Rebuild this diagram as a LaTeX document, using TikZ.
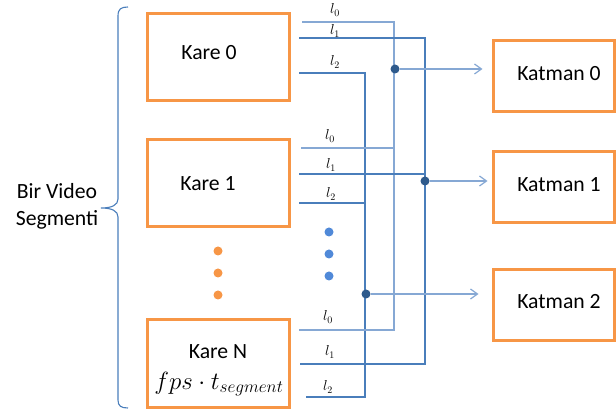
\documentclass[tikz,border=0pt]{standalone}
\usepackage{fontspec}
\setmainfont{Carlito}
\usetikzlibrary{arrows.meta}
\definecolor{frameorange}{HTML}{F79646}
\definecolor{busblue}{HTML}{4A7EBB}
\definecolor{lightbus}{HTML}{86A8D4}
\definecolor{jointblue}{HTML}{2E5A8C}
\definecolor{dotblue}{HTML}{5089D8}
\begin{document}
\begin{tikzpicture}[x=1pt,y=-1pt,
  framebox/.style={draw=frameorange, line width=3pt, inner sep=0pt},
  karebox/.style={framebox, minimum width=142pt, minimum height=87pt},
  katmanbox/.style={framebox, minimum width=121pt, minimum height=71pt},
  boxtext/.style={font=\fontsize{21.7}{26}\selectfont, inner sep=0pt},
  lname/.style={font=\fontsize{14.5}{16}\selectfont, inner sep=0pt},
  lzero/.style={draw=lightbus, line width=1.3pt},
  lone/.style={draw=busblue, line width=2.6pt},
  ltwo/.style={draw=busblue, line width=2pt},
  feed/.style={draw=lightbus, line width=1.2pt, -{Straight Barb[length=7pt,width=10pt]}},
  joint/.style={circle, fill=jointblue, inner sep=0pt, minimum size=9pt},
  orangedot/.style={circle, fill=frameorange, inner sep=0pt, minimum size=9pt},
  bluedot/.style={circle, fill=dotblue, inner sep=0pt, minimum size=9pt},
  brace/.style={draw=busblue, line width=1.1pt}
]
\useasboundingbox (0,0) rectangle (616,411);

% frames
\node[karebox] (k0) at (218,57) {};
\node[karebox] (k1) at (218,183.5) {};
\node[karebox, minimum height=88pt] (kN) at (218,364) {};
\node[katmanbox] (m0) at (553.5,76.5) {};
\node[katmanbox] (m1) at (553.5,187.5) {};
\node[katmanbox] (m2) at (553.5,305) {};

% frame texts
\node[boxtext] (k0t) at (209,53) {Kare 0};
\node[boxtext] (k1t) at (208,184) {Kare 1};
\node[boxtext] (kNt) at (218,352) {Kare N};
\node[inner sep=0pt, font=\fontsize{23.5}{28}\selectfont] (kNf) at (219,384) {$fps\cdot t_{segment}$};
\node[boxtext] (m0t) at (559,74) {Katman 0};
\node[boxtext] (m1t) at (559,185) {Katman 1};
\node[boxtext] (m2t) at (559,302) {Katman 2};

% segment brace and its caption
\draw[brace] (128,7) .. controls (121,7) and (118,9) .. (118,16) -- (118,199)
  .. controls (118,205) and (112,208) .. (101,208)
  .. controls (112,208) and (118,211) .. (118,217) -- (118,400)
  .. controls (118,406) and (121,408) .. (128,408);
\node[align=center, font=\fontsize{21.7}{27}\selectfont, inner sep=0pt] (seg) at (57,206) {Bir Video\\Segmenti};

% ellipses between frames
\node[orangedot] (od1) at (218,251) {};
\node[orangedot] (od2) at (218,273) {};
\node[orangedot] (od3) at (218,295) {};
\node[bluedot] (bd1) at (329,232) {};
\node[bluedot] (bd2) at (329,254) {};
\node[bluedot] (bd3) at (329,276) {};

% line start points next to each frame
\coordinate (a0) at (302,22);  \coordinate (a1) at (299,38);  \coordinate (a2) at (299,73);
\coordinate (b0) at (301,148); \coordinate (b1) at (299,174); \coordinate (b2) at (299,203);
\coordinate (c0) at (299,330); \coordinate (c1) at (300,364); \coordinate (c2) at (306,397);
% bus columns
\coordinate (x0) at (394,0); \coordinate (x1) at (425,0); \coordinate (x2) at (365,0);

% l2 bus
\draw[ltwo] (a2) -- (a2 -| x2) -- (c2 -| x2) -- (c2);
\draw[ltwo] (b2) -- (b2 -| x2);
% l0 bus
\draw[lzero] (a0) -- (a0 -| x0) -- (c0 -| x0) -- (c0);
\draw[lzero] (b0) -- (b0 -| x0);
% l1 bus
\draw[lone] (a1) -- (a1 -| x1) -- (c1 -| x1) -- (c1);
\draw[lone] (b1) -- (b1 -| x1);

% taps feeding the layers
\node[joint] (j0) at (395,69) {};
\node[joint] (j1) at (425,181) {};
\node[joint] (j2) at (366,294) {};
\draw[feed, shorten >=9pt] (j0) -- (j0 -| m0.west);
\draw[feed, shorten >=4pt] (j1) -- (j1 -| m1.west);
\draw[feed, shorten >=13pt] (j2) -- (j2 -| m2.west);

% line names
\node[lname] (n00) at (335,10) {$l_0$};
\node[lname] (n01) at (335,31) {$l_1$};
\node[lname] (n02) at (335,62) {$l_2$};
\node[lname] (n10) at (330,136) {$l_0$};
\node[lname] (n11) at (331,165) {$l_1$};
\node[lname] (n12) at (331,194) {$l_2$};
\node[lname] (nN0) at (328,317) {$l_0$};
\node[lname] (nN1) at (330,352) {$l_1$};
\node[lname] (nN2) at (328,387) {$l_2$};
\end{tikzpicture}
\end{document}
